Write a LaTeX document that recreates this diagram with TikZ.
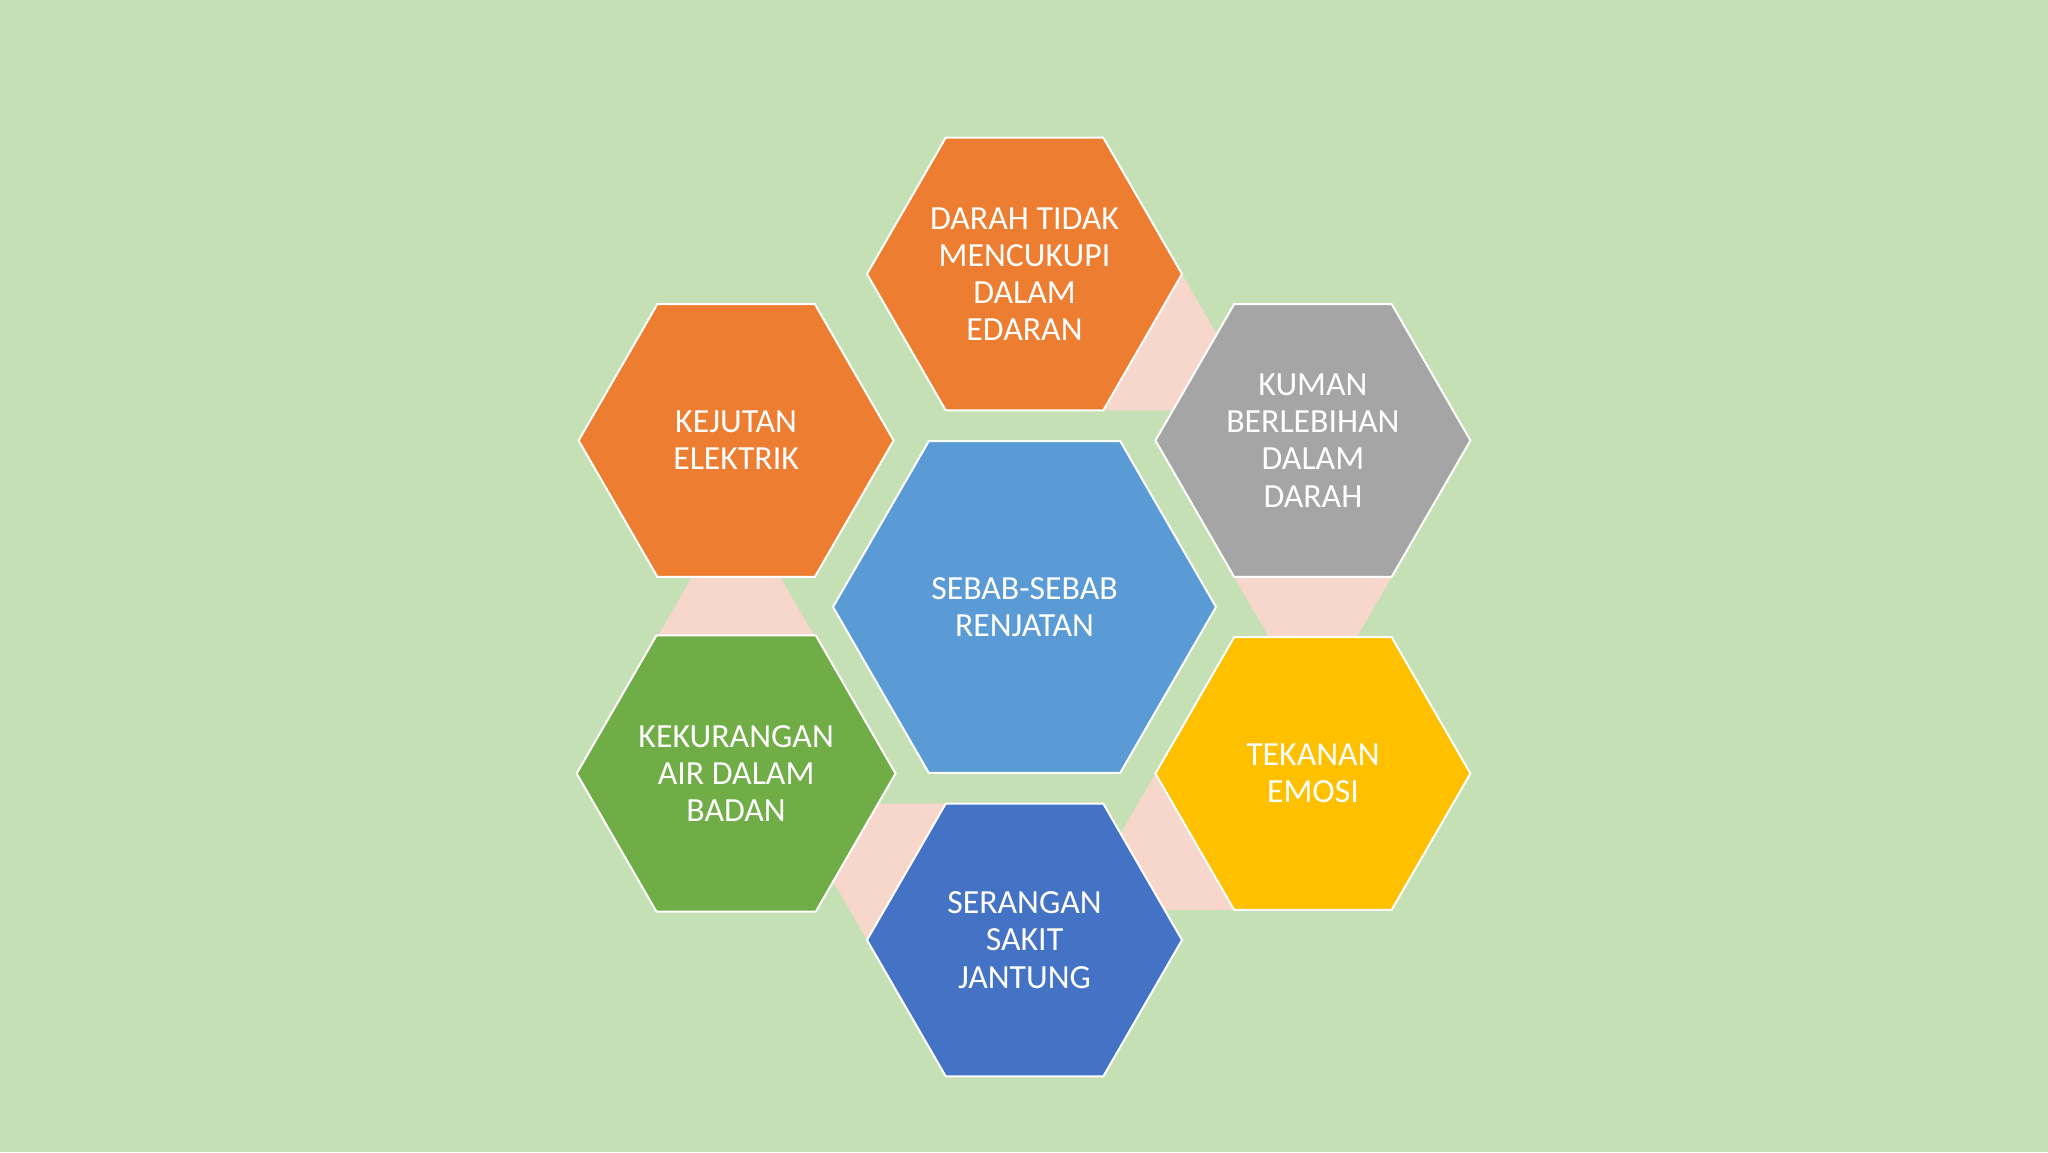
\documentclass[tikz,border=0pt]{standalone}
\usepackage{fontspec}
\setmainfont{Carlito}
\usetikzlibrary{shapes.geometric,calc}
\definecolor{bgc}{RGB}{197,224,180}
\definecolor{pinkc}{RGB}{247,214,204}
\definecolor{orangec}{RGB}{237,125,49}
\definecolor{grayc}{RGB}{165,165,165}
\definecolor{yellowc}{RGB}{255,192,0}
\definecolor{darkbluec}{RGB}{68,114,196}
\definecolor{greenc}{RGB}{112,173,71}
\definecolor{lightbluec}{RGB}{91,155,213}
\tikzset{
  hexnode/.style={regular polygon, regular polygon sides=6, minimum size=157.5pt,
    inner sep=0pt, outer sep=0pt, draw=white, line width=1pt, text=white,
    align=center, font=\fontsize{16.9pt}{18.6pt}\selectfont},
  bighex/.style={hexnode, minimum size=191.5pt},
  pinktri/.style={fill=pinkc}
}
\begin{document}
\begin{tikzpicture}[x=0.5pt,y=0.5pt]
\fill[bgc] (0,0) rectangle (2048,1152);
\useasboundingbox (0,0) rectangle (2048,1152);
% centres
\coordinate (pC) at (1024.5,545);
\coordinate (pT) at (1024.5,878);
\coordinate (pUR) at (1312.9,711.5);
\coordinate (pLR) at (1312.9,378.5);
\coordinate (pB) at (1024.5,212);
\coordinate (pLL) at (736.1,378.5);
\coordinate (pUL) at (736.1,711.5);
% pink triangles behind
\fill[pinktri] ($(pT)+(-60:157.5)$) -- ($(pT)+(0:157.5)$) -- ($(pT)+(-30:272.8)$) -- cycle;
\fill[pinktri] ($(pUR)+(-120:157.5)$) -- ($(pUR)+(-60:157.5)$) -- ($(pUR)+(-90:272.8)$) -- cycle;
\fill[pinktri] ($(pLR)+(-180:157.5)$) -- ($(pLR)+(-120:157.5)$) -- ($(pLR)+(-150:272.8)$) -- cycle;
\fill[pinktri] ($(pB)+(120:157.5)$) -- ($(pB)+(180:157.5)$) -- ($(pB)+(150:272.8)$) -- cycle;
\fill[pinktri] ($(pLL)+(60:157.5)$) -- ($(pLL)+(120:157.5)$) -- ($(pLL)+(90:272.8)$) -- cycle;
% hexagons
\node[bighex, fill=lightbluec] (hC) at (pC) {SEBAB-SEBAB\\RENJATAN};
\node[hexnode, fill=orangec] (hT) at (pT) {DARAH TIDAK\\MENCUKUPI\\DALAM\\EDARAN};
\node[hexnode, fill=grayc] (hUR) at (pUR) {KUMAN\\BERLEBIHAN\\DALAM\\DARAH};
\node[hexnode, fill=yellowc] (hLR) at (pLR) {TEKANAN\\EMOSI};
\node[hexnode, fill=darkbluec] (hB) at (pB) {SERANGAN\\SAKIT\\JANTUNG};
\node[hexnode, fill=greenc] (hLL) at (pLL) {KEKURANGAN\\AIR DALAM\\BADAN};
\node[hexnode, fill=orangec] (hUL) at (pUL) {KEJUTAN\\ELEKTRIK};
\end{tikzpicture}
\end{document}
